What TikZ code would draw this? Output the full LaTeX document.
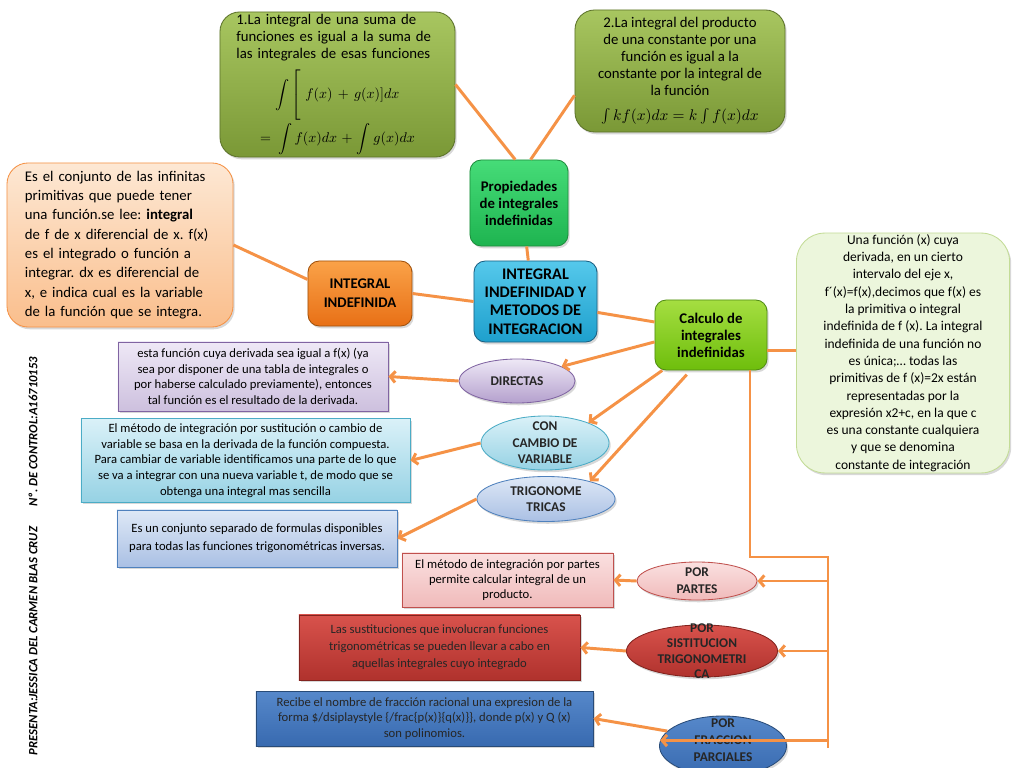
\documentclass[tikz,border=0pt]{standalone}
\usepackage{fontspec}
\setmainfont{Carlito}
\usetikzlibrary{shapes.geometric,arrows.meta,shadows}
\definecolor{lnorange}{RGB}{245,146,70}
\definecolor{olvtop}{RGB}{168,198,96}
\definecolor{olvbot}{RGB}{122,152,54}
\definecolor{olvline}{RGB}{92,114,42}
\definecolor{grntop}{RGB}{70,220,120}
\definecolor{grnbot}{RGB}{30,180,80}
\definecolor{grnline}{RGB}{30,140,60}
\definecolor{cyntop}{RGB}{85,200,235}
\definecolor{cynbot}{RGB}{30,160,205}
\definecolor{cynline}{RGB}{25,95,130}
\definecolor{orgtop}{RGB}{250,162,72}
\definecolor{orgbot}{RGB}{232,112,22}
\definecolor{orgline}{RGB}{160,80,10}
\definecolor{limtop}{RGB}{165,222,65}
\definecolor{limbot}{RGB}{110,190,12}
\definecolor{limline}{RGB}{80,140,20}
\definecolor{peachtop}{RGB}{253,232,212}
\definecolor{peachbot}{RGB}{250,190,140}
\definecolor{mintfill}{RGB}{236,246,220}
\definecolor{mintline}{RGB}{195,220,150}
\definecolor{lavtop}{RGB}{238,232,246}
\definecolor{lavbot}{RGB}{205,192,222}
\definecolor{lavdark}{RGB}{180,160,205}
\definecolor{lavline}{RGB}{128,100,162}
\definecolor{aquatop}{RGB}{218,241,248}
\definecolor{aquabot}{RGB}{150,210,228}
\definecolor{aqualine}{RGB}{75,172,198}
\definecolor{skytop}{RGB}{222,232,246}
\definecolor{skybot}{RGB}{170,192,228}
\definecolor{skyline}{RGB}{79,129,189}
\definecolor{rosetop}{RGB}{250,224,224}
\definecolor{rosebot}{RGB}{240,186,186}
\definecolor{roseline}{RGB}{192,80,77}
\definecolor{redtop}{RGB}{216,82,76}
\definecolor{redbot}{RGB}{176,50,45}
\definecolor{redline}{RGB}{130,35,30}
\definecolor{bluetop}{RGB}{86,136,202}
\definecolor{bluebot}{RGB}{56,106,176}
\definecolor{blueline}{RGB}{40,75,120}
\tikzset{
  conn/.style={draw=lnorange, line width=2.1pt},
  arr/.style={conn, -{Straight Barb[length=3.5pt,width=8pt]}},
  shbox/.style={draw, line width=0.6pt, drop shadow={opacity=0.3,shadow xshift=1.2pt,shadow yshift=-1.6pt}},
  oval/.style={shbox, ellipse, inner sep=0pt},
  ovtext/.style={font=\fontsize{9.5}{11.5}\selectfont\bfseries, align=center, text=black!85},
  small/.style={font=\fontsize{9}{11}\selectfont, align=center}
}
\newcommand{\jline}[1]{\makebox[\hsize][s]{#1}}
\begin{document}
\frenchspacing
\begin{tikzpicture}[x=0.025cm, y=-0.025cm]
  \useasboundingbox (0,0) rectangle (1024,768);
  \fill[white] (0,0) rectangle (1024,768);

  % Properties (top)
  \node[shbox, rounded corners=14pt, draw=olvline, top color=olvtop, bottom color=olvbot,
        minimum width=5.875cm, minimum height=3.625cm, text width=5.05cm, align=center,
        inner ysep=1pt, font=\fontsize{10.5}{12.2}\selectfont] (suma) at (337.5,84.5)
    {\jline{1.La integral de una suma de}\\
     \jline{funciones es igual a la suma de}\\
     \jline{las integrales de esas funciones}\\[5pt]
     {\fontsize{10}{12}\selectfont$\displaystyle\int\left[\vrule height 18pt depth 15pt width 0pt\right.f(x)+g(x)]dx$}\\[1pt]
     {\fontsize{10}{12}\selectfont$\displaystyle=\int f(x)dx+\int g(x)dx$}};
  \node[shbox, rounded corners=14pt, draw=olvline, top color=olvtop, bottom color=olvbot,
        minimum width=5.25cm, minimum height=3.05cm, align=center,
        font=\fontsize{10.5}{12}\selectfont] (producto) at (680,71)
    {2.La integral del producto\\ de una constante por una\\ función es igual a la\\
     constante por la integral de\\ la función\\[6pt] $\int kf(x)dx=k\int f(x)dx$};
  \node[shbox, rounded corners=8pt, draw=grnline, top color=grntop, bottom color=grnbot,
        minimum width=2.45cm, minimum height=2.15cm, align=center,
        font=\fontsize{10.5}{12}\selectfont\bfseries] (prop) at (519,203)
    {Propiedades\\ de integrales\\ indefinidas};

  % Center
  \node[shbox, rounded corners=8pt, draw=cynline, top color=cyntop, bottom color=cynbot,
        minimum width=3.075cm, minimum height=2.025cm, align=center,
        font=\fontsize{11.5}{13.1}\selectfont\bfseries] (main) at (535.5,301.5)
    {INTEGRAL\\ INDEFINIDAD Y\\ METODOS DE\\ INTEGRACION};
  \node[shbox, rounded corners=8pt, draw=orgline, top color=orgtop, bottom color=orgbot,
        minimum width=2.6cm, minimum height=1.625cm, align=center,
        font=\fontsize{10.5}{13.5}\selectfont\bfseries] (indef) at (360,293.5)
    {INTEGRAL\\ INDEFINIDA};
  \node[shbox, rounded corners=15pt, draw=lnorange, top color=peachtop, bottom color=peachbot,
        minimum width=5.65cm, minimum height=4.1cm, text width=4.75cm, align=left,
        font=\fontsize{10.5}{13.7}\selectfont] (concepto) at (120,245)
    {\jline{Es el conjunto de las infinitas}\\
     \jline{primitivas que puede tener}\\
     \jline{una función.se lee: \textbf{integral}}\\
     \jline{de f de x diferencial de x. f(x)}\\
     \jline{es el integrado o función a}\\
     \jline{integrar. dx es diferencial de}\\
     \jline{x, e indica cual es la variable}\\
     de la función que se integra.};
  \node[shbox, rounded corners=8pt, draw=limline, top color=limtop, bottom color=limbot,
        minimum width=2.8cm, minimum height=1.75cm, align=center,
        font=\fontsize{10.5}{12}\selectfont\bfseries] (calc) at (711,335)
    {Calculo de\\ integrales\\ indefinidas};
  \node[shbox, rounded corners=20pt, draw=mintline, fill=mintfill,
        minimum width=5.325cm, minimum height=5.9cm, align=center, inner ysep=1pt,
        font=\fontsize{9.6}{12.3}\selectfont] (primitiva) at (903,353)
    {Una función (x) cuya\\ derivada, en un cierto\\ intervalo del eje x,\\
     f´(x)=f(x),decimos que f(x) es\\ la primitiva o integral\\
     indefinida de f (x). La integral\\ indefinida de una función no\\
     es única;… todas las\\ primitivas de f (x)=2x están\\ representadas por la\\
     expresión x2+c, en la que c\\ es una constante cualquiera\\ y que se denomina\\
     constante de integración};

  % Methods (ovals)
  \node[oval, draw=lavline, top color=lavtop, bottom color=lavdark,
        minimum width=2.9cm, minimum height=1.1cm,
        label={[ovtext]center:DIRECTAS}] (directas) at (517,381) {};
  \node[oval, draw=aqualine, top color=aquatop, bottom color=aquabot,
        minimum width=3.2cm, minimum height=1.35cm,
        label={[ovtext, font=\fontsize{9.5}{11.7}\selectfont\bfseries]center:{CON\\ CAMBIO DE\\ VARIABLE}}] (cambio) at (545,443) {};
  \node[oval, draw=skyline, top color=skytop, bottom color=skybot,
        minimum width=3.45cm, minimum height=1.125cm,
        label={[ovtext]center:{TRIGONOME\\ TRICAS}}] (trig) at (546,499) {};
  \node[oval, draw=roseline, top color=rosetop, bottom color=rosebot,
        minimum width=3.0cm, minimum height=0.95cm,
        label={[ovtext, font=\fontsize{9.5}{12}\selectfont\bfseries]center:{POR\\ PARTES}}] (partes) at (697,581) {};
  \node[oval, draw=redline, top color=redtop, bottom color=redbot,
        minimum width=3.775cm, minimum height=1.3cm,
        label={[ovtext, font=\fontsize{9.5}{11}\selectfont\bfseries]center:{POR\\ SISTITUCION\\ TRIGONOMETRI\\ CA}}] (sist) at (702,651) {};
  \node[oval, draw=blueline, top color=bluetop, bottom color=bluebot,
        minimum width=3.175cm, minimum height=1.5cm,
        label={[ovtext, yshift=4pt, font=\fontsize{9.5}{12}\selectfont\bfseries]center:{POR\\ FRACCION\\ PARCIALES}}] (fracc) at (723,746) {};

  % Method descriptions
  \node[shbox, draw=lavline, top color=lavtop, bottom color=lavbot, small,
        minimum width=6.75cm, minimum height=1.725cm] (dirtxt) at (253,376.5)
    {esta función cuya derivada sea igual a f(x) (ya\\ sea por disponer de una tabla de integrales o\\
     por haberse calculado previamente), entonces\\ tal función es el resultado de la derivada.};
  \node[shbox, draw=aqualine, top color=aquatop, bottom color=aquabot, small,
        font=\fontsize{9}{11.2}\selectfont, minimum width=8.225cm, minimum height=2.075cm] (camtxt) at (245.5,460.5)
    {El método de integración por sustitución o cambio de\\ variable se basa en la derivada de la función compuesta.\\
     Para cambiar de variable identificamos una parte de lo que\\ se va a integrar con una nueva variable t, de modo que se\\
     obtenga una integral mas sencilla};
  \node[shbox, draw=skyline, top color=skytop, bottom color=skybot, small,
        font=\fontsize{9}{13}\selectfont, minimum width=7.0cm, minimum height=1.425cm] (trigtxt) at (257,538.5)
    {Es un conjunto separado de formulas disponibles\\ para todas las funciones trigonométricas inversas.};
  \node[shbox, draw=roseline, top color=rosetop, bottom color=rosebot, small,
        font=\fontsize{9}{10.8}\selectfont, minimum width=5.275cm, minimum height=1.35cm] (partxt) at (507.5,580)
    {El método de integración por partes\\ permite calcular integral de un\\ producto.};
  \node[shbox, draw=redline, top color=redtop, bottom color=redbot, small,
        font=\fontsize{9}{12}\selectfont, text=black!85, minimum width=7.025cm, minimum height=1.625cm] (sisttxt) at (439.5,647.5)
    {Las sustituciones que involucran funciones\\ trigonométricas se pueden llevar a cabo en\\ aquellas integrales cuyo integrado};
  \node[shbox, draw=blueline, top color=bluetop, bottom color=bluebot, small,
        font=\fontsize{9}{11.2}\selectfont, text=black!85, minimum width=8.425cm, minimum height=1.375cm] (fractxt) at (424.5,718.5)
    {Recibe el nombre de fracción racional una expresion de la\\
     forma \$/dsiplaystyle \{/frac\{p(x)\}\{q(x)\}\}, donde p(x) y Q (x)\\ son polinomios.};

  % Author
  \node[rotate=90, font=\fontsize{9}{11}\selectfont\bfseries\itshape] (autor) at (33,556)
    {PRESENTA:JESSICA DEL CARMEN BLAS CRUZ\hspace{1.6em}Nº. DE CONTROL:A16710153};

  % Connectors
  \draw[conn] (suma.east) -- (prop.95);
  \draw[conn] (producto.193) -- (prop.75);
  \draw[conn] (prop.-80) -- (main.100);
  \draw[conn] (indef.165) -- (concepto.east);
  \draw[conn] (indef.east) -- (main.west);
  \draw[conn] (main.-10) -- (calc.167);
  \draw[conn] (calc.-15) -- (calc.-15 -| primitiva.west);
  \draw[arr] (calc.187) -- (directas.18);
  \draw[arr] (calc.216) -- (cambio.25);
  \draw[arr, shorten <=4pt] (calc.240) -- (trig.22);
  \draw[arr] (directas.west) -- (dirtxt.east);
  \draw[arr] (cambio.west) -- (camtxt.east);
  \draw[arr] (trig.west) -- (trigtxt.east);

  % Bus to the lower methods
  \coordinate (drop) at (750,557);
  \coordinate (busTop) at (828,557);
  \coordinate (busEnd) at (828,748);
  \draw[conn] (drop |- calc.south) -- (drop) -- (busTop) -- (busEnd);
  \draw[arr] (partes.east -| busTop) -- (partes.east);
  \draw[arr] (sist.east -| busTop) -- (sist.east);
  \draw[arr] (fracc.175 -| busTop) -- (fracc.175);
  \draw[arr] (partes.west) -- (partxt.east);
  \draw[arr] (sist.west) -- (sisttxt.east);
  \draw[arr] (fracc.165) -- (fractxt.east);
\end{tikzpicture}
\end{document}
